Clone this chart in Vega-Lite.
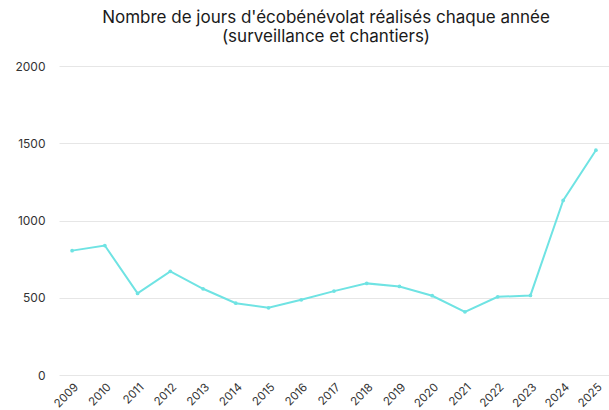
{
  "$schema": "https://vega.github.io/schema/vega-lite/v6.json",
  "autosize": "none",
  "width": 550,
  "height": 309,
  "padding": {"left": 59, "top": 66, "right": 0, "bottom": 35},
  "background": "white",
  "config": {
    "font": "Inter",
    "view": {"stroke": null}
  },
  "title": {
    "text": ["Nombre de jours d'écobénévolat réalisés chaque année", "(surveillance et chantiers)"],
    "anchor": "middle",
    "fontSize": 17,
    "fontWeight": "normal",
    "color": "#1a1a1a",
    "offset": 14,
    "lineHeight": 19,
    "dx": -8
  },
  "data": {
    "values": [
      {"annee": "2009", "jours": 805},
      {"annee": "2010", "jours": 838},
      {"annee": "2011", "jours": 528},
      {"annee": "2012", "jours": 671},
      {"annee": "2013", "jours": 558},
      {"annee": "2014", "jours": 465},
      {"annee": "2015", "jours": 435},
      {"annee": "2016", "jours": 487},
      {"annee": "2017", "jours": 543},
      {"annee": "2018", "jours": 593},
      {"annee": "2019", "jours": 573},
      {"annee": "2020", "jours": 513},
      {"annee": "2021", "jours": 409},
      {"annee": "2022", "jours": 506},
      {"annee": "2023", "jours": 515},
      {"annee": "2024", "jours": 1130},
      {"annee": "2025", "jours": 1455}
    ]
  },
  "mark": {"type": "line", "color": "#6fe3e3", "strokeWidth": 2, "point": {"filled": true, "size": 14, "color": "#6fe3e3"}},
  "encoding": {
    "x": {
      "field": "annee",
      "type": "ordinal",
      "scale": {"type": "point", "padding": 0.4},
      "axis": {
        "title": null,
        "labelAngle": -45,
        "labelFontSize": 11.5,
        "labelColor": "#333333",
        "domain": false,
        "ticks": false,
        "labelPadding": 6
      }
    },
    "y": {
      "field": "jours",
      "type": "quantitative",
      "scale": {"domain": [0, 2000]},
      "axis": {
        "title": null,
        "format": "d",
        "values": [0, 500, 1000, 1500, 2000],
        "domain": false,
        "ticks": false,
        "labelPadding": 14,
        "labelFontSize": 12,
        "labelColor": "#333333",
        "gridColor": "#e6e6e6",
        "gridWidth": 1
      }
    }
  }
}
